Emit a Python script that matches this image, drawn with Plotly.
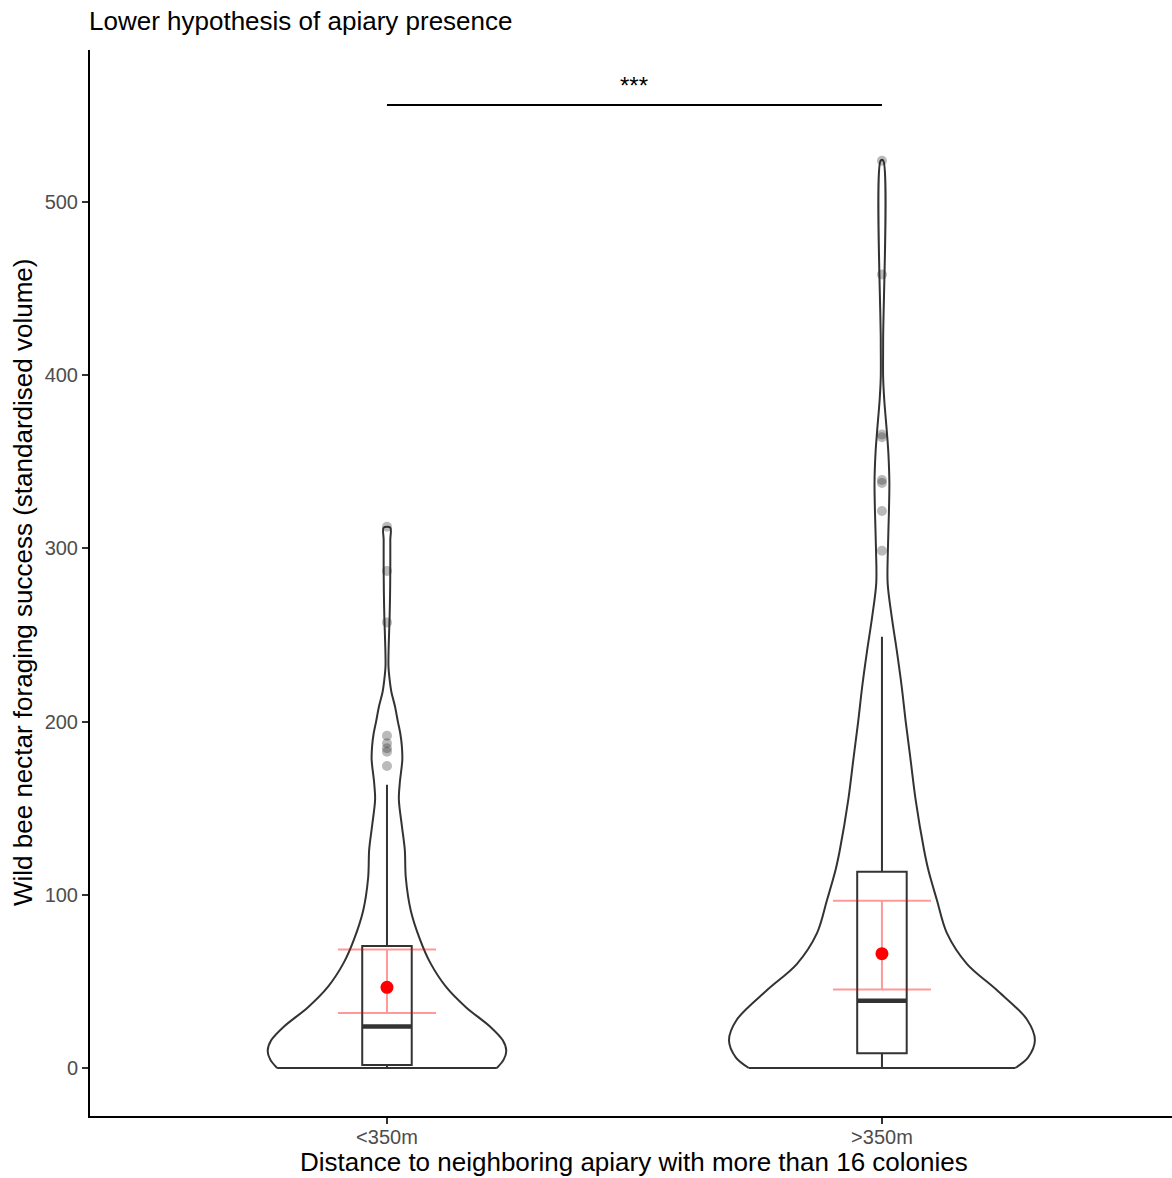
import plotly.graph_objects as go

# ---- data ----
groups = ["<350m", ">350m"]
positions = [1, 2]

# box statistics per group
q1 = [1.7, 8.5]
median = [24.0, 38.9]
q3 = [70.4, 113.4]
lower_whisker = [0, 0]
upper_whisker = [163.5, 249.0]

# outliers
outliers_lt = [312.5, 287.0, 257.3, 191.9, 187.5, 184.6, 182.6, 174.4]
outliers_gt = [523.8, 458.2, 365.8, 364.2, 339.5, 337.8, 321.6, 298.7]

# mean and confidence interval
means = [46.6, 66.0]
ci_low = [31.8, 45.4]
ci_high = [68.5, 96.6]

# violin outlines: value, half-width (category units)
violin_lt_y = [0, 5, 10, 16, 24, 35, 47, 61, 74, 91, 110, 126, 140, 155, 165, 178, 186,
               193, 200, 209, 217, 224, 232, 245, 260, 275, 290, 305, 312]
violin_lt_w = [0.222, 0.236, 0.241, 0.234, 0.208, 0.160, 0.119, 0.087, 0.067, 0.048, 0.038,
               0.036, 0.030, 0.024, 0.026, 0.031, 0.030, 0.027, 0.022, 0.016, 0.009, 0.0055,
               0.003, 0.0036, 0.0053, 0.0063, 0.0067, 0.0067, 0.0067]
violin_gt_y = [0, 6, 16, 28, 45, 60, 78, 97, 114, 126, 155, 180, 200, 220, 241, 260, 280,
               299, 320, 338, 355, 367, 386, 399, 420, 524]
violin_gt_w = [0.269, 0.295, 0.309, 0.293, 0.232, 0.172, 0.131, 0.111, 0.094, 0.085, 0.068,
               0.057, 0.048, 0.040, 0.030, 0.020, 0.0115, 0.012, 0.014, 0.015, 0.013, 0.010,
               0.0046, 0.0024, 0.0024, 0.0024]

sig_y = 556
sig_label = "***"

title = "Lower hypothesis of apiary presence"
x_title = "Distance to neighboring apiary with more than 16 colonies"
y_title = "Wild bee nectar foraging success (standardised volume)"

FONT = "Liberation Sans, Arial, Helvetica, sans-serif"
DARK = "#333333"

fig = go.Figure()

# violins: smooth sides + flat trimmed bottom
for c, vy, vw in [(1, violin_lt_y, violin_lt_w), (2, violin_gt_y, violin_gt_w)]:
    xs = [c - w for w in vw] + [c + w for w in reversed(vw)]
    ys = list(vy) + list(reversed(vy))
    fig.add_trace(go.Scatter(
        x=xs, y=ys, mode="lines",
        line=dict(color=DARK, width=2, shape="spline", smoothing=0.9),
        hoverinfo="skip", showlegend=False,
    ))
    fig.add_trace(go.Scatter(
        x=[c - vw[0], c + vw[0]], y=[vy[0], vy[0]], mode="lines",
        line=dict(color=DARK, width=2), hoverinfo="skip", showlegend=False,
    ))

# boxes
fig.add_trace(go.Box(
    x=positions, q1=q1, median=median, q3=q3,
    lowerfence=lower_whisker, upperfence=upper_whisker,
    width=0.1, whiskerwidth=0, boxpoints=False,
    line=dict(color=DARK, width=2), fillcolor="white",
    showlegend=False,
))

# thick median lines
for c, m in zip(positions, median):
    fig.add_trace(go.Scatter(
        x=[c - 0.05, c + 0.05], y=[m, m], mode="lines",
        line=dict(color=DARK, width=4.5), hoverinfo="skip", showlegend=False,
    ))

# outliers
for c, pts in zip(positions, [outliers_lt, outliers_gt]):
    fig.add_trace(go.Scatter(
        x=[c] * len(pts), y=pts, mode="markers",
        marker=dict(size=10, color="rgba(40,40,40,0.32)", line=dict(width=0)),
        showlegend=False,
    ))

# mean + CI
fig.add_trace(go.Scatter(
    x=positions, y=means, mode="markers",
    marker=dict(size=13, color="red"),
    error_y=dict(
        type="data", symmetric=False,
        array=[h - m for h, m in zip(ci_high, means)],
        arrayminus=[m - l for l, m in zip(ci_low, means)],
        color="rgba(255,0,0,0.4)", thickness=2, width=49,
    ),
    showlegend=False,
))

# significance bar
fig.add_trace(go.Scatter(
    x=positions, y=[sig_y, sig_y], mode="lines",
    line=dict(color="black", width=2), hoverinfo="skip", showlegend=False,
))
fig.add_annotation(
    x=1.5, y=sig_y, xref="x", yref="y", text=sig_label, showarrow=False,
    yanchor="bottom", yshift=4, font=dict(size=24, color="black", family=FONT),
)

# titles
fig.add_annotation(
    x=0, y=1, xref="paper", yref="paper", text=title, showarrow=False,
    xanchor="left", yanchor="bottom", yshift=12, xshift=-3,
    font=dict(size=26, color="black", family=FONT),
)
fig.add_annotation(
    x=1.5, y=0, xref="x", yref="paper", text=x_title, showarrow=False,
    xanchor="center", yanchor="middle", yshift=-46,
    font=dict(size=26, color="black", family=FONT),
)
fig.add_annotation(
    x=0, y=0.5, xref="paper", yref="paper", text=y_title, showarrow=False,
    textangle=-90, xanchor="center", yanchor="middle", xshift=-67,
    font=dict(size=26, color="black", family=FONT),
)

axis_common = dict(
    showgrid=False, zeroline=False, showline=True, linecolor="black", linewidth=2,
    ticks="outside", ticklen=6, tickwidth=2, tickcolor=DARK,
    tickfont=dict(size=20, color="#4d4d4d", family=FONT),
)

fig.update_layout(
    width=1172, height=1178,
    margin=dict(l=90, r=0, t=50, b=62),
    paper_bgcolor="white", plot_bgcolor="white",
    font=dict(family=FONT),
    xaxis=dict(range=[0.4, 2.586], tickvals=positions, ticktext=groups,
               ticklabelstandoff=-4, **axis_common),
    yaxis=dict(range=[-27.7, 587.8], tickvals=[0, 100, 200, 300, 400, 500], **axis_common),
    showlegend=False,
)

fig.write_html("out.html", config={"displayModeBar": False},
               post_script="document.body.style.margin='0';")
